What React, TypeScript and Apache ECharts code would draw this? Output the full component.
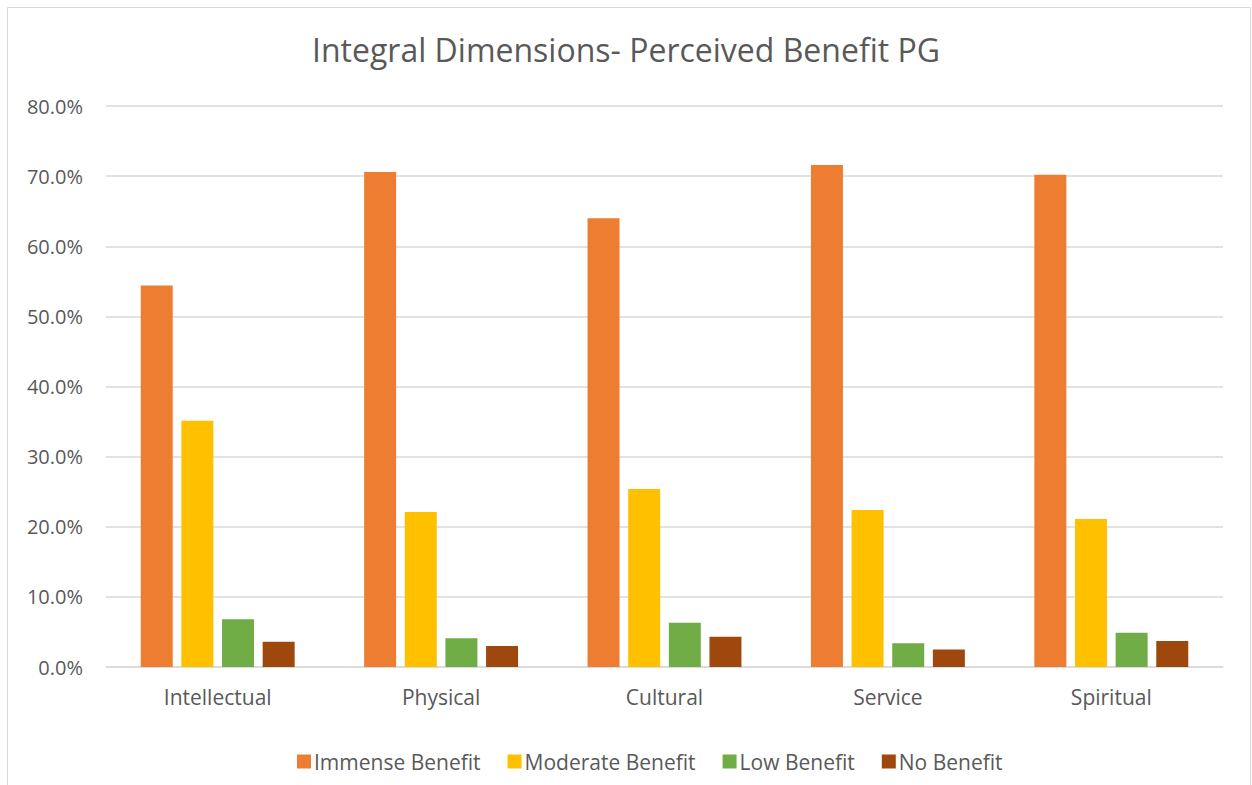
import React, { useEffect, useRef } from "react";
import * as echarts from "echarts";

const categories = ["Intellectual", "Physical", "Cultural", "Service", "Spiritual"];
const seriesNames = ["Immense Benefit", "Moderate Benefit", "Low Benefit", "No Benefit"];
const immense = [54.4, 70.6, 64.0, 71.6, 70.2];
const moderate = [35.1, 22.1, 25.4, 22.4, 21.1];
const low = [6.8, 4.1, 6.3, 3.4, 4.9];
const none = [3.6, 3.0, 4.3, 2.5, 3.7];
const colors = ["#ED7D31", "#FFC000", "#70AD47", "#9E480E"];
const FONT = "'Open Sans', sans-serif";

export default function App() {
  const ref = useRef<HTMLDivElement>(null);
  useEffect(() => {
    document.body.style.margin = "0";
    const chart = echarts.init(ref.current!, null, { renderer: "svg" });
    const data = [immense, moderate, low, none];
    chart.setOption({
      animation: false,
      backgroundColor: "#ffffff",
      textStyle: { fontFamily: FONT },
      title: {
        text: "Integral Dimensions- Perceived Benefit PG",
        left: "center",
        top: 28,
        textStyle: { fontFamily: FONT, fontSize: 32, fontWeight: "normal", color: "#595959" },
      },
      graphic: [
        {
          type: "rect",
          shape: { x: 7.5, y: 7.5, width: 1243, height: 800 },
          style: { fill: "none", stroke: "#d9d9d9", lineWidth: 1 },
          silent: true,
        },
      ],
      legend: {
        bottom: 8,
        left: 292,
        itemWidth: 14,
        itemHeight: 14,
        itemGap: 27,
        icon: "rect",
        textStyle: { fontFamily: FONT, fontSize: 21, color: "#595959", padding: [0, 0, 0, -2] },
        data: seriesNames,
      },
      grid: { left: 106, right: 29, top: 106, bottom: 118, containLabel: false },
      xAxis: {
        type: "category",
        data: categories,
        axisLine: { lineStyle: { color: "#d9d9d9", width: 1.5 } },
        axisTick: { show: false },
        axisLabel: { fontFamily: FONT, fontSize: 21, color: "#595959", margin: 19 },
      },
      yAxis: {
        type: "value",
        min: 0,
        max: 80,
        interval: 10,
        axisLine: { show: false },
        axisTick: { show: false },
        splitLine: { lineStyle: { color: "#d9d9d9", width: 1.5 } },
        axisLabel: {
          fontFamily: FONT,
          fontSize: 20,
          color: "#595959",
          margin: 23,
          formatter: (v: number) => v.toFixed(1) + "%",
        },
      },
      series: seriesNames.map((name, i) => ({
        name,
        type: "bar",
        data: data[i],
        barWidth: 32,
        barGap: "27%",
        barCategoryGap: "31%",
        itemStyle: { color: colors[i] },
      })),
    });
    return () => chart.dispose();
  }, []);
  return <div ref={ref} style={{ width: 1252, height: 785 }} />;
}
